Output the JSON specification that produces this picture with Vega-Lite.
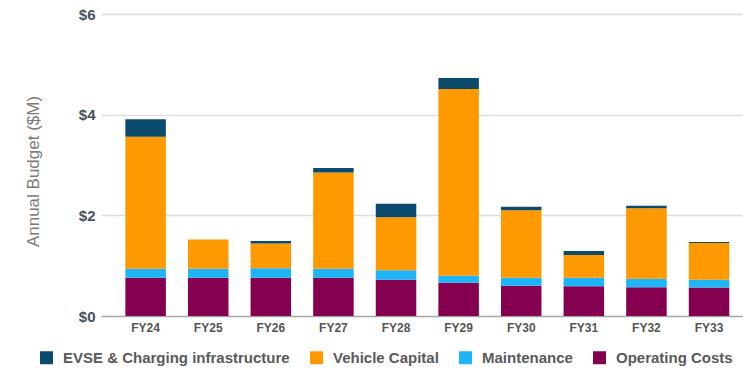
{
  "$schema": "https://vega.github.io/schema/vega-lite/v6.json",
  "width": 642,
  "height": 302,
  "autosize": {"type": "none"},
  "padding": {"left": 101, "top": 14, "right": 0, "bottom": 52},
  "background": "white",
  "config": {"view": {"stroke": null}, "font": "Liberation Sans"},
  "data": {"values": [
    {"year": "FY24", "category": "Operating Costs", "value": 0.76},
    {"year": "FY24", "category": "Maintenance", "value": 0.18},
    {"year": "FY24", "category": "Vehicle Capital", "value": 2.62},
    {"year": "FY24", "category": "EVSE & Charging infrastructure", "value": 0.35},
    {"year": "FY25", "category": "Operating Costs", "value": 0.76},
    {"year": "FY25", "category": "Maintenance", "value": 0.18},
    {"year": "FY25", "category": "Vehicle Capital", "value": 0.58},
    {"year": "FY25", "category": "EVSE & Charging infrastructure", "value": 0.0},
    {"year": "FY26", "category": "Operating Costs", "value": 0.76},
    {"year": "FY26", "category": "Maintenance", "value": 0.19},
    {"year": "FY26", "category": "Vehicle Capital", "value": 0.49},
    {"year": "FY26", "category": "EVSE & Charging infrastructure", "value": 0.05},
    {"year": "FY27", "category": "Operating Costs", "value": 0.76},
    {"year": "FY27", "category": "Maintenance", "value": 0.18},
    {"year": "FY27", "category": "Vehicle Capital", "value": 1.91},
    {"year": "FY27", "category": "EVSE & Charging infrastructure", "value": 0.09},
    {"year": "FY28", "category": "Operating Costs", "value": 0.72},
    {"year": "FY28", "category": "Maintenance", "value": 0.19},
    {"year": "FY28", "category": "Vehicle Capital", "value": 1.05},
    {"year": "FY28", "category": "EVSE & Charging infrastructure", "value": 0.27},
    {"year": "FY29", "category": "Operating Costs", "value": 0.66},
    {"year": "FY29", "category": "Maintenance", "value": 0.14},
    {"year": "FY29", "category": "Vehicle Capital", "value": 3.71},
    {"year": "FY29", "category": "EVSE & Charging infrastructure", "value": 0.22},
    {"year": "FY30", "category": "Operating Costs", "value": 0.60},
    {"year": "FY30", "category": "Maintenance", "value": 0.16},
    {"year": "FY30", "category": "Vehicle Capital", "value": 1.34},
    {"year": "FY30", "category": "EVSE & Charging infrastructure", "value": 0.07},
    {"year": "FY31", "category": "Operating Costs", "value": 0.59},
    {"year": "FY31", "category": "Maintenance", "value": 0.17},
    {"year": "FY31", "category": "Vehicle Capital", "value": 0.45},
    {"year": "FY31", "category": "EVSE & Charging infrastructure", "value": 0.08},
    {"year": "FY32", "category": "Operating Costs", "value": 0.57},
    {"year": "FY32", "category": "Maintenance", "value": 0.17},
    {"year": "FY32", "category": "Vehicle Capital", "value": 1.40},
    {"year": "FY32", "category": "EVSE & Charging infrastructure", "value": 0.05},
    {"year": "FY33", "category": "Operating Costs", "value": 0.565},
    {"year": "FY33", "category": "Maintenance", "value": 0.155},
    {"year": "FY33", "category": "Vehicle Capital", "value": 0.73},
    {"year": "FY33", "category": "EVSE & Charging infrastructure", "value": 0.02}
  ]},
  "transform": [
    {"calculate": "indexof(['Operating Costs', 'Maintenance', 'Vehicle Capital', 'EVSE & Charging infrastructure'], datum.category)", "as": "stackRank"}
  ],
  "mark": {"type": "bar"},
  "encoding": {
    "x": {
      "field": "year", "type": "nominal", "sort": null,
      "scale": {"paddingInner": 0.353, "paddingOuter": 0.304, "align": 0.64},
      "axis": {"title": null, "labelAngle": 0, "domain": false, "ticks": false, "grid": false,
               "labelFont": "Liberation Sans", "labelFontSize": 12, "labelFontWeight": "bold",
               "labelColor": "#555555", "labelPadding": 6}
    },
    "y": {
      "field": "value", "type": "quantitative", "stack": "zero",
      "scale": {"domain": [0, 6], "nice": false},
      "axis": {"title": "Annual Budget ($M)", "values": [0, 2, 4, 6],
               "labelExpr": "'$' + datum.value",
               "domain": false, "ticks": false,
               "labelFont": "Liberation Sans", "labelFontSize": 15, "labelFontWeight": "bold",
               "labelColor": "#46525a", "labelPadding": 6,
               "gridColor": {"condition": {"test": "datum.value === 0", "value": "#a6a6a6"}, "value": "#dddddd"},
               "gridWidth": 1.5,
               "titleFont": "Liberation Sans", "titleFontSize": 17, "titleFontWeight": "normal",
               "titleColor": "#7a7a7a", "titleX": -59, "titleY": 157}
    },
    "order": {"field": "stackRank", "type": "quantitative", "sort": "ascending"},
    "color": {
      "field": "category", "type": "nominal",
      "scale": {
        "domain": ["EVSE & Charging infrastructure", "Vehicle Capital", "Maintenance", "Operating Costs"],
        "range": ["#0b4c6e", "#ff9900", "#1eb4f8", "#860050"]
      },
      "legend": {
        "title": null, "orient": "none", "direction": "horizontal",
        "legendX": -62, "legendY": 336,
        "symbolType": "square", "symbolSize": 169, "symbolStrokeWidth": 0, "symbolOpacity": 1,
        "labelFont": "Liberation Sans", "labelFontSize": 15, "labelFontWeight": "bold",
        "labelColor": "#5a5a5a", "labelOffset": 9, "columnPadding": 19, "labelLimit": 400
      }
    }
  }
}
